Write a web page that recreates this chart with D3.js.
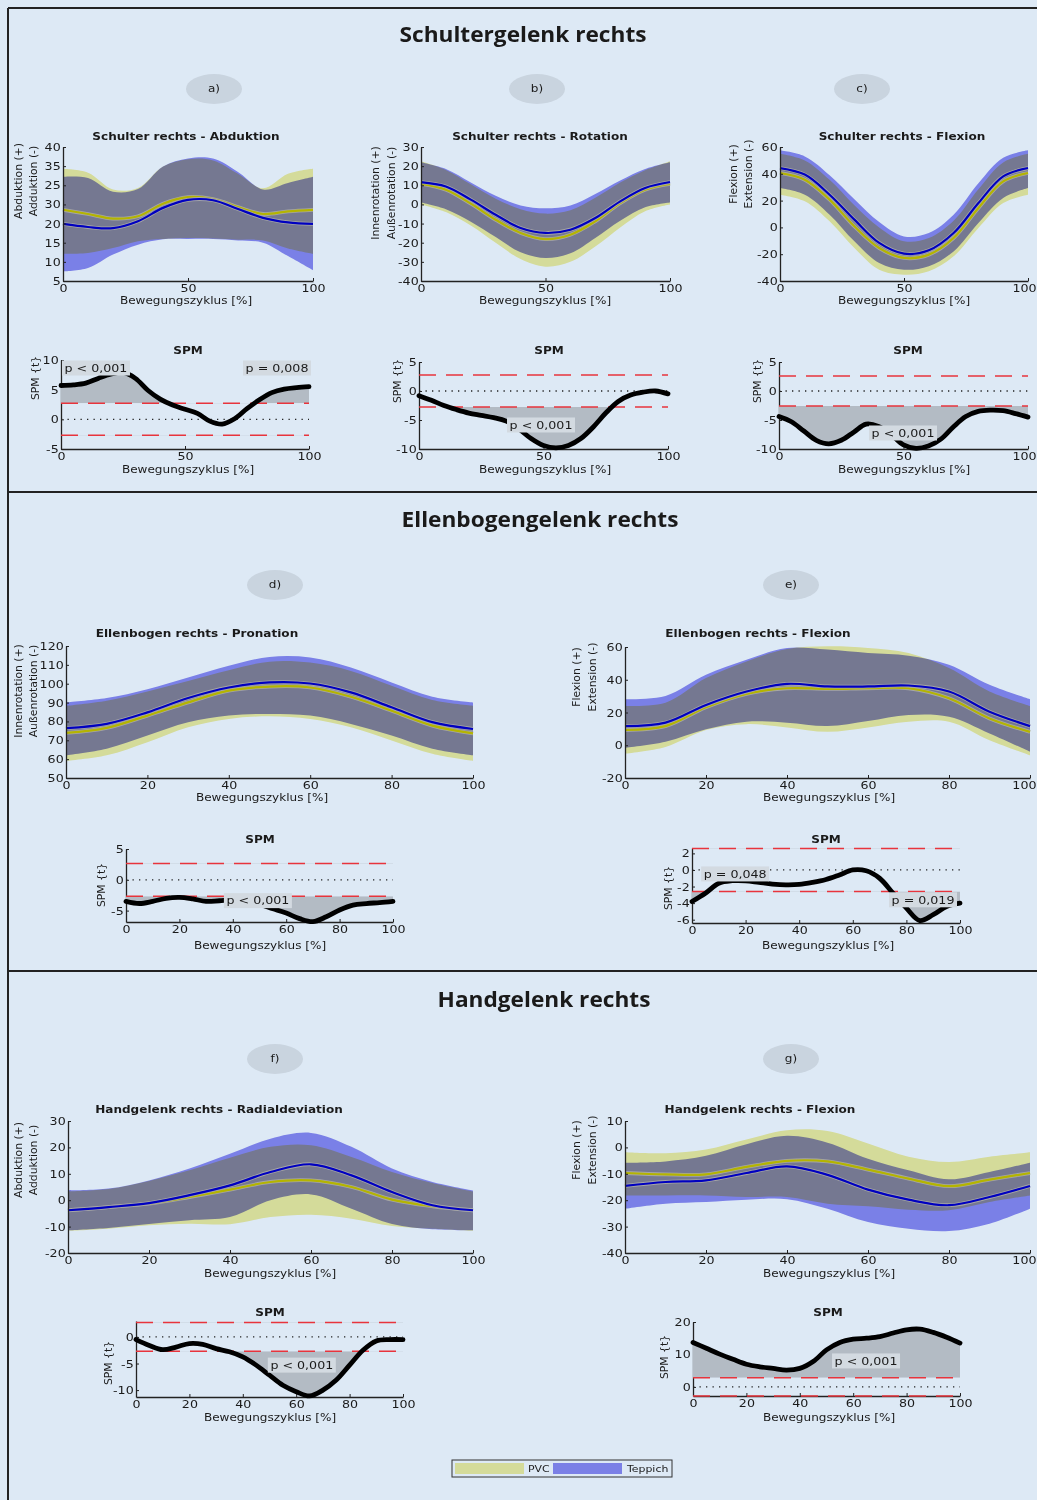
<!DOCTYPE html>
<html><head><meta charset="utf-8">
<script src="https://cdn.jsdelivr.net/npm/d3@7"></script>
<style>
html,body{margin:0;padding:0;background:#dde9f5;}
svg{display:block;}
</style></head><body>
<svg id="c" width="1037" height="1500"></svg>
<script>
// ---------------- DATA ----------------
const pctK = [0,10,20,30,40,50,60,70,80,90,100];
const pctS = [0,5,10,15,20,25,30,35,40,45,50,55,60,65,70,75,80,85,90,95,100];

// a) Schulter rechts - Abduktion
const aPvcUpper = [34.3, 33.3, 28.9, 29.3, 34.9, 36.8, 36.5, 33.0, 29.2, 33.0, 34.3];
const aPvcLower = [12.1, 12.3, 13.6, 15.4, 16.0, 16.2, 16.1, 15.8, 15.6, 13.5, 12.1];
const aPvcMean  = [23.6, 22.5, 21.3, 21.9, 25.2, 26.9, 26.4, 24.3, 22.5, 23.2, 23.6];
const aTepUpper = [32.2, 31.9, 28.3, 29.0, 34.9, 37.0, 37.0, 33.5, 28.9, 30.6, 32.2];
const aTepLower = [7.5, 8.4, 11.9, 14.5, 15.9, 16.0, 16.0, 15.6, 15.0, 11.5, 7.8];
const aTepMean  = [19.9, 19.1, 18.8, 20.6, 24.1, 26.2, 26.1, 23.8, 21.5, 20.3, 19.9];
const aYTicks = [5, 10, 15, 20, 25, 30, 35, 40];
const aYTickLabels = ["5", "10", "15", "20", "30", "25", "35", "40"];

// b) Schulter rechts - Rotation
const bPvcUpper = [22.5, 18.0, 10.5, 3.0, -2.5, -4.8, -3.0, 3.5, 11.5, 17.8, 22.5];
const bPvcLower = [0.0, -4.0, -11.0, -20.0, -28.5, -32.5, -30.0, -22.0, -12.0, -3.5, 0.0];
const bPvcMean  = [10.7, 7.7, 0.4, -8.0, -14.9, -18.1, -15.8, -8.8, 0.7, 7.7, 10.7];
const bTepUpper = [22.0, 18.5, 11.5, 4.5, -0.5, -2.0, -0.5, 5.5, 12.5, 18.5, 22.0];
const bTepLower = [1.0, -2.5, -9.0, -17.0, -25.0, -28.0, -25.5, -17.5, -8.5, -1.5, 1.0];
const bTepMean  = [11.7, 9.4, 2.5, -5.4, -12.3, -14.9, -13.2, -7.1, 1.6, 8.6, 11.7];

// c) Schulter rechts - Flexion
const cPvcUpper = [55.0, 50.0, 35.5, 16.5, 0.0, -10.3, -8.0, 5.0, 28.5, 48.5, 55.0];
const cPvcLower = [24.4, 19.5, 4.5, -15.4, -31.6, -35.3, -32.8, -21.6, -0.4, 18.2, 24.4];
const cPvcMean  = [40.6, 35.6, 20.7, 0.8, -15.4, -22.8, -20.3, -7.9, 14.5, 34.4, 40.6];
const cTepUpper = [57.5, 53.0, 39.0, 21.0, 4.0, -6.7, -4.2, 9.5, 33.0, 52.0, 57.5];
const cTepLower = [29.4, 24.4, 9.5, -10.4, -26.6, -31.6, -29.0, -17.9, 3.3, 22.0, 29.4];
const cTepMean  = [44.3, 39.4, 24.4, 5.8, -11.6, -19.6, -17.1, -4.2, 18.2, 38.1, 44.3];

// d) Ellenbogen rechts - Pronation
const dPvcUpper = [88.3, 91.0, 95.9, 101.5, 107.2, 111.7, 111.2, 106.8, 98.9, 91.3, 88.3];
const dPvcLower = [59.0, 62.0, 69.0, 76.9, 81.3, 82.7, 81.3, 76.9, 69.9, 62.8, 59.0];
const dPvcMean  = [73.9, 76.6, 83.1, 90.1, 96.3, 98.5, 98.0, 93.1, 85.7, 77.8, 73.7];
const dTepUpper = [90.1, 92.4, 97.1, 103.3, 109.5, 114.2, 113.9, 108.6, 100.7, 93.1, 90.1];
const dTepLower = [62.0, 65.5, 72.5, 79.5, 83.1, 84.0, 83.1, 78.7, 72.5, 65.5, 62.0];
const dTepMean  = [76.4, 78.7, 84.8, 92.4, 98.0, 100.7, 100.1, 95.4, 87.5, 79.6, 76.0];

// e) Ellenbogen rechts - Flexion
const ePvcUpper = [24.0, 26.0, 41.0, 51.2, 58.8, 60.4, 59.4, 56.3, 47.1, 32.8, 24.0];
const ePvcLower = [-5.1, -1.0, 9.3, 12.9, 10.9, 8.2, 10.9, 14.4, 14.4, 3.1, -6.1];
const ePvcMean  = [9.3, 11.7, 23.2, 31.4, 34.8, 34.4, 34.8, 34.8, 28.7, 16.4, 8.2];
const eTepUpper = [28.1, 30.1, 43.0, 52.2, 59.4, 58.4, 56.3, 54.7, 49.2, 36.9, 28.1];
const eTepLower = [-1.6, 2.1, 9.7, 14.4, 13.8, 11.7, 14.8, 18.5, 17.4, 7.2, -4.0];
const eTepMean  = [11.7, 13.8, 24.6, 32.8, 37.5, 35.9, 35.9, 36.5, 32.8, 20.5, 11.7];

// f) Handgelenk rechts - Radialdeviation
const fPvcUpper = [3.3, 4.2, 7.3, 11.3, 16.1, 20.2, 20.8, 16.4, 10.7, 6.5, 3.3];
const fPvcLower = [-11.6, -10.8, -9.5, -8.9, -9.1, -6.4, -5.5, -7.0, -9.8, -10.8, -11.6];
const fPvcMean  = [-3.8, -2.6, -1.3, 1.2, 4.0, 6.9, 7.5, 5.0, 0.2, -2.3, -3.8];
const fTepUpper = [3.7, 4.4, 7.5, 12.0, 17.6, 23.3, 25.5, 20.2, 12.0, 6.9, 3.7];
const fTepLower = [-11.4, -10.5, -9.0, -7.6, -6.4, 0.0, 2.2, -3.2, -9.0, -11.0, -11.4];
const fTepMean  = [-3.8, -2.6, -1.1, 1.9, 5.6, 10.7, 13.6, 9.4, 3.1, -1.9, -3.8];

// g) Handgelenk rechts - Flexion
const gPvcUpper = [-1.8, -2.2, -0.8, 3.0, 6.5, 6.2, 1.5, -3.5, -5.5, -3.5, -1.8];
const gPvcLower = [-18.2, -18.2, -18.2, -18.8, -18.8, -21.3, -22.3, -23.6, -23.8, -20.7, -18.2];
const gPvcMean  = [-9.7, -10.2, -10.2, -7.4, -5.1, -5.3, -8.4, -11.8, -14.7, -12.2, -9.7];
const gTepUpper = [-5.8, -5.3, -3.2, 1.2, 4.4, 1.8, -4.3, -8.7, -12.1, -9.3, -5.8];
const gTepLower = [-23.2, -21.3, -20.7, -19.8, -19.6, -23.2, -28.3, -30.8, -31.7, -28.9, -23.2];
const gTepMean  = [-14.6, -13.1, -12.5, -9.7, -7.2, -10.4, -16.0, -19.8, -21.9, -18.8, -14.6];

// SPM{t} curves (every 5 %)
const spmA = [5.7, 5.8, 6.1, 6.9, 7.6, 7.9, 6.9, 4.9, 3.4, 2.4, 1.7, 1.0, -0.3, -0.8, 0.1, 1.8, 3.3, 4.5, 5.1, 5.35, 5.5];
const spmB = [-0.8, -1.6, -2.5, -3.2, -3.8, -4.2, -4.6, -5.2, -6.5, -8.2, -9.4, -9.8, -9.4, -8.2, -6.2, -3.8, -1.8, -0.7, -0.2, 0.0, -0.5];
const spmC = [-4.4, -5.3, -6.9, -8.5, -9.1, -8.5, -7.1, -5.7, -6.1, -7.5, -9.3, -9.9, -9.5, -8.3, -6.2, -4.4, -3.5, -3.3, -3.4, -3.9, -4.5];
const spmD = [-3.5, -3.85, -3.5, -3.0, -2.85, -3.1, -3.5, -3.4, -3.3, -3.5, -4.0, -4.7, -5.4, -6.3, -6.8, -6.0, -4.9, -4.1, -3.85, -3.7, -3.5];
const spmE = [-3.8, -2.8, -1.6, -1.3, -1.3, -1.5, -1.7, -1.8, -1.75, -1.5, -1.15, -0.6, 0.0, -0.1, -1.0, -2.8, -4.6, -6.1, -5.4, -4.4, -4.0];
const spmF = [-0.5, -1.6, -2.4, -1.9, -1.25, -1.4, -2.2, -2.8, -3.75, -5.3, -7.2, -9.1, -10.3, -11.1, -10.0, -8.1, -5.3, -2.5, -0.75, -0.5, -0.5];
const spmG = [13.7, 11.9, 10.1, 8.5, 7.0, 6.2, 5.7, 5.2, 5.7, 7.8, 11.4, 13.7, 14.7, 15.0, 15.5, 16.6, 17.6, 17.8, 16.8, 15.3, 13.5];

// critical thresholds
const thrA = 2.7, thrB = 2.75, thrC = 2.6, thrD = 2.65, thrE = 2.6, thrF = 2.7, thrG = 2.8;

const legendLabels = ["PVC", "Teppich"];
const sectionTitles = ["Schultergelenk rechts", "Ellenbogengelenk rechts", "Handgelenk rechts"];
const xLabel = "Bewegungszyklus [%]";

// ---------------- STYLE ----------------
const W = 1037;
const BG = "#dde9f5";
const PVC_BLEND = "#f5f0a0", TEP_BLEND = "#8d8cf1";
const PVC_SWATCH = "#d4db9a", TEP_SWATCH = "#7b80e6";
const PVC_LINE = "#b4b400", TEP_LINE = "#0000c0";
const SX = 1.15;
const CURVE = d3.curveCatmullRom.alpha(0.5);

const svg = d3.select("#c");
svg.append("rect").attr("width", W).attr("height", 1500).attr("fill", BG);
const defs = svg.append("defs");

function htext(g, x, y, s, o = {}) {
  return g.append("text")
    .attr("transform", `translate(${x},${y}) scale(${o.sx ?? SX},1)`)
    .attr("text-anchor", o.anchor || "middle")
    .attr("dominant-baseline", "central")
    .style("font-family", o.family || "DejaVu Sans")
    .style("font-size", (o.size || 10.5) + "px")
    .style("font-weight", o.weight || "normal")
    .attr("fill", o.fill || "#1a1a1a")
    .text(s);
}
function vtext(g, x, y, s, o = {}) {
  return g.append("text")
    .attr("transform", `translate(${x},${y}) rotate(-90)`)
    .attr("text-anchor", "middle")
    .attr("dominant-baseline", "central")
    .style("font-family", "DejaVu Sans")
    .style("font-size", (o.size || 10.8) + "px")
    .attr("fill", "#1a1a1a")
    .text(s);
}
function drawAxes(g, x, y, xTicks, yTicks, yFmt) {
  const ax = g.append("g").attr("transform", `translate(0,${y.range()[0]})`)
    .call(d3.axisBottom(x).tickValues(xTicks).tickFormat(d => String(d))
      .tickSizeInner(-3).tickSizeOuter(0).tickPadding(3));
  const ay = g.append("g").attr("transform", `translate(${x.range()[0]},0)`)
    .call(d3.axisLeft(y).tickValues(yTicks).tickFormat(yFmt || (d => String(d)))
      .tickSizeInner(-3).tickSizeOuter(0).tickPadding(2));
  [ax, ay].forEach(a => {
    a.select(".domain").attr("stroke", "#222").attr("stroke-width", 1.3);
    a.selectAll(".tick line").attr("stroke", "#222");
    a.selectAll("text").style("font-family", "DejaVu Sans").style("font-size", "11px")
      .attr("fill", "#1a1a1a").attr("transform", `scale(${SX},1)`);
  });
  // keep the last x tick label inside the picture when the axis reaches the right edge
  ax.selectAll(".tick").each(function (d) {
    if (x(d) + 12 > W) {
      d3.select(this).select("text").attr("text-anchor", "end").attr("x", (W - 1 - x(d)) / SX);
    }
  });
}

// ---------------- FRAME ----------------
const frame = svg.append("g").attr("stroke", "#222").attr("stroke-width", 2);
frame.append("line").attr("x1", 8).attr("x2", 8).attr("y1", 8).attr("y2", 1500);
frame.append("line").attr("x1", 8).attr("x2", W).attr("y1", 8).attr("y2", 8);
frame.append("line").attr("x1", 8).attr("x2", W).attr("y1", 492).attr("y2", 492);
frame.append("line").attr("x1", 8).attr("x2", W).attr("y1", 971).attr("y2", 971);

const secPos = [[523, 34], [540, 519], [544, 999]];
sectionTitles.forEach((t, i) => htext(svg, secPos[i][0], secPos[i][1], t,
  { size: 22, weight: 700, family: "Open Sans", sx: 1.03 }));

const tags = [["a)", 214, 89], ["b)", 537, 89], ["c)", 862, 89], ["d)", 275, 585],
              ["e)", 791, 585], ["f)", 275, 1059], ["g)", 791, 1059]];
tags.forEach(([t, x, y]) => {
  svg.append("ellipse").attr("cx", x).attr("cy", y).attr("rx", 28).attr("ry", 15).attr("fill", "#c9d4df");
  htext(svg, x, y, t, { size: 10.5 });
});

// ---------------- KINEMATIC PANELS ----------------
function kinPanel(c) {
  const g = svg.append("g");
  const x = d3.scaleLinear().domain([0, 100]).range([c.x0, c.x1]);
  const y = d3.scaleLinear().domain(c.yDomain).range([c.y1, c.y0]);
  const band = (lo, hi) => d3.area().x((d, i) => x(pctK[i])).y0((d, i) => y(lo[i]))
    .y1((d, i) => y(hi[i])).curve(CURVE)(lo);
  g.append("path").attr("d", band(c.pvc[1], c.pvc[0])).attr("fill", PVC_BLEND).style("mix-blend-mode", "multiply");
  g.append("path").attr("d", band(c.tep[1], c.tep[0])).attr("fill", TEP_BLEND).style("mix-blend-mode", "multiply");
  const line = d3.line().x((d, i) => x(pctK[i])).y(d => y(d)).curve(CURVE);
  [[c.pvc[2], PVC_LINE], [c.tep[2], TEP_LINE]].forEach(([m, col]) => {
    g.append("path").attr("d", line(m)).attr("fill", "none").attr("stroke", "#a6a6a6").attr("stroke-width", 3.8);
    g.append("path").attr("d", line(m)).attr("fill", "none").attr("stroke", col).attr("stroke-width", 2.2);
  });
  drawAxes(g, x, y, c.xTicks, c.yTicks, c.yFmt);
  htext(g, c.title[1], c.title[2], c.title[0], { weight: 700 });
  vtext(g, c.ylab[1], c.ylab[3], c.ylab[0]);
  vtext(g, c.ylab[2] , c.ylab[3], c.ylab[4]);
  htext(g, c.xl[0], c.xl[1], xLabel);
}

const t3 = [0, 50, 100], t6 = [0, 20, 40, 60, 80, 100];
kinPanel({ x0: 63, x1: 313, y0: 147, y1: 281, yDomain: [5, 40], yTicks: aYTicks,
  yFmt: d => aYTickLabels[aYTicks.indexOf(d)], xTicks: t3,
  pvc: [aPvcUpper, aPvcLower, aPvcMean], tep: [aTepUpper, aTepLower, aTepMean],
  title: ["Schulter rechts - Abduktion", 186, 137],
  ylab: ["Abduktion (+)", 18, 33, 181, "Adduktion (-)"], xl: [186, 301] });
kinPanel({ x0: 421, x1: 670, y0: 147, y1: 281, yDomain: [-40, 30], yTicks: [-40, -30, -20, -10, 0, 10, 20, 30], xTicks: t3,
  pvc: [bPvcUpper, bPvcLower, bPvcMean], tep: [bTepUpper, bTepLower, bTepMean],
  title: ["Schulter rechts - Rotation", 540, 137],
  ylab: ["Innenrotation (+)", 375, 391, 193, "Außenrotation (-)"], xl: [545, 301] });
kinPanel({ x0: 780, x1: 1028, y0: 147, y1: 281, yDomain: [-40, 60], yTicks: [-40, -20, 0, 20, 40, 60], xTicks: t3,
  pvc: [cPvcUpper, cPvcLower, cPvcMean], tep: [cTepUpper, cTepLower, cTepMean],
  title: ["Schulter rechts - Flexion", 902, 137],
  ylab: ["Flexion (+)", 733, 748, 174, "Extension (-)"], xl: [904, 301] });
kinPanel({ x0: 66, x1: 473, y0: 646, y1: 778, yDomain: [50, 120], yTicks: [50, 60, 70, 80, 90, 100, 110, 120], xTicks: t6,
  pvc: [dPvcUpper, dPvcLower, dPvcMean], tep: [dTepUpper, dTepLower, dTepMean],
  title: ["Ellenbogen rechts - Pronation", 197, 634],
  ylab: ["Innenrotation (+)", 18, 33, 691, "Außenrotation (-)"], xl: [262, 798] });
kinPanel({ x0: 625, x1: 1030, y0: 647, y1: 778, yDomain: [-20, 60], yTicks: [-20, 0, 20, 40, 60], xTicks: t6,
  pvc: [ePvcUpper, ePvcLower, ePvcMean], tep: [eTepUpper, eTepLower, eTepMean],
  title: ["Ellenbogen rechts - Flexion", 758, 634],
  ylab: ["Flexion (+)", 576, 592, 677, "Extension (-)"], xl: [829, 798] });
kinPanel({ x0: 68, x1: 473, y0: 1121, y1: 1253, yDomain: [-20, 30], yTicks: [-20, -10, 0, 10, 20, 30], xTicks: t6,
  pvc: [fPvcUpper, fPvcLower, fPvcMean], tep: [fTepUpper, fTepLower, fTepMean],
  title: ["Handgelenk rechts - Radialdeviation", 219, 1110],
  ylab: ["Abduktion (+)", 18, 33, 1160, "Adduktion (-)"], xl: [270, 1274] });
kinPanel({ x0: 625, x1: 1030, y0: 1121, y1: 1253, yDomain: [-40, 10], yTicks: [-40, -30, -20, -10, 0, 10], xTicks: t6,
  pvc: [gPvcUpper, gPvcLower, gPvcMean], tep: [gTepUpper, gTepLower, gTepMean],
  title: ["Handgelenk rechts - Flexion", 760, 1110],
  ylab: ["Flexion (+)", 576, 592, 1150, "Extension (-)"], xl: [829, 1274] });

// ---------------- SPM PANELS ----------------
let clipN = 0;
function spmPanel(c) {
  const g = svg.append("g");
  const x = d3.scaleLinear().domain([0, 100]).range([c.x0, c.x1]);
  const y = d3.scaleLinear().domain(c.yDomain).range([c.y1, c.y0]);
  drawAxes(g, x, y, c.xTicks, c.yTicks);
  [[c.thr, c.y0 - 5, y(c.thr)], [-c.thr, y(-c.thr), c.y1 + 5]].forEach(([t, top, bot]) => {
    const id = "clip" + (clipN++);
    defs.append("clipPath").attr("id", id).append("rect")
      .attr("x", x(0)).attr("width", x(100) - x(0)).attr("y", top).attr("height", Math.max(0, bot - top));
    g.append("path").attr("clip-path", `url(#${id})`)
      .attr("d", d3.area().x((d, i) => x(pctS[i])).y0(y(t)).y1(d => y(d)).curve(CURVE)(c.data))
      .attr("fill", "#b3bbc4");
  });
  g.append("line").attr("x1", x(0)).attr("x2", x(100)).attr("y1", y(0)).attr("y2", y(0))
    .attr("stroke", "#222").attr("stroke-width", 1.3).attr("stroke-dasharray", "1.3,5.2");
  [c.thr, -c.thr].forEach(t => g.append("line").attr("x1", x(0)).attr("x2", x(100))
    .attr("y1", y(t)).attr("y2", y(t)).attr("stroke", "#e8343c").attr("stroke-width", 1.5)
    .attr("stroke-dasharray", "17,10"));
  g.append("path").attr("d", d3.line().x((d, i) => x(pctS[i])).y(d => y(d)).curve(CURVE)(c.data))
    .attr("fill", "none").attr("stroke", "#000").attr("stroke-width", 4.8).attr("stroke-linecap", "round");
  c.labels.forEach(([t, px, v]) => {
    g.append("rect").attr("x", x(px) - 34).attr("y", y(v) - 7.5).attr("width", 68).attr("height", 15)
      .attr("fill", "#d3dae1");
    htext(g, x(px), y(v), t, { size: 11 });
  });
  htext(g, c.title[0], c.title[1], "SPM", { weight: 700 });
  vtext(g, c.ylab[0], c.ylab[1], "SPM {t}");
  htext(g, c.xl[0], c.xl[1], xLabel);
}

spmPanel({ x0: 61, x1: 309, y0: 360, y1: 449, yDomain: [-5, 10], yTicks: [-5, 0, 5, 10], xTicks: t3,
  data: spmA, thr: thrA, labels: [["p < 0,001", 14.1, 8.65], ["p = 0,008", 87.1, 8.65]],
  title: [188, 351], ylab: [35, 378], xl: [188, 470] });
spmPanel({ x0: 419, x1: 668, y0: 362, y1: 449, yDomain: [-10, 5], yTicks: [-10, -5, 0, 5], xTicks: t3,
  data: spmB, thr: thrB, labels: [["p < 0,001", 49, -5.86]],
  title: [549, 351], ylab: [397, 381], xl: [545, 470] });
spmPanel({ x0: 779, x1: 1028, y0: 362, y1: 449, yDomain: [-10, 5], yTicks: [-10, -5, 0, 5], xTicks: t3,
  data: spmC, thr: thrC, labels: [["p < 0,001", 49.8, -7.24]],
  title: [908, 351], ylab: [757, 381], xl: [904, 470] });
spmPanel({ x0: 126, x1: 393, y0: 849, y1: 922, yDomain: [-6.85, 5], yTicks: [-5, 0, 5], xTicks: t6,
  data: spmD, thr: thrD, labels: [["p < 0,001", 49.4, -3.38]],
  title: [260, 840], ylab: [101, 885], xl: [260, 946] });
spmPanel({ x0: 692, x1: 960, y0: 848, y1: 923, yDomain: [-6.4, 2.65], yTicks: [-6, -4, -2, 0, 2], xTicks: t6,
  data: spmE, thr: thrE, labels: [["p = 0,048", 16.1, -0.48], ["p = 0,019", 86.2, -3.6]],
  title: [826, 840], ylab: [668, 888], xl: [828, 946] });
spmPanel({ x0: 136, x1: 403, y0: 1321, y1: 1397, yDomain: [-11.3, 3.0], yTicks: [-10, -5, 0], xTicks: t6,
  data: spmF, thr: thrF, labels: [["p < 0,001", 62.1, -5.3]],
  title: [270, 1313], ylab: [108, 1363], xl: [270, 1418] });
spmPanel({ x0: 693, x1: 960, y0: 1322, y1: 1396, yDomain: [-2.8, 20], yTicks: [0, 10, 20], xTicks: t6,
  data: spmG, thr: thrG, labels: [["p < 0,001", 64.8, 8.0]],
  title: [828, 1313], ylab: [664, 1357], xl: [829, 1418] });

// ---------------- LEGEND ----------------
const lg = svg.append("g");
lg.append("rect").attr("x", 452).attr("y", 1460).attr("width", 220).attr("height", 17)
  .attr("fill", "none").attr("stroke", "#333").attr("stroke-width", 1);
[[PVC_SWATCH, 455, 528], [TEP_SWATCH, 553, 627]].forEach(([col, sx, tx], i) => {
  lg.append("rect").attr("x", sx).attr("y", 1463).attr("width", 69).attr("height", 11).attr("fill", col);
  htext(lg, tx, 1468.5, legendLabels[i], { size: 9.5, anchor: "start" });
});
</script>
</body></html>
